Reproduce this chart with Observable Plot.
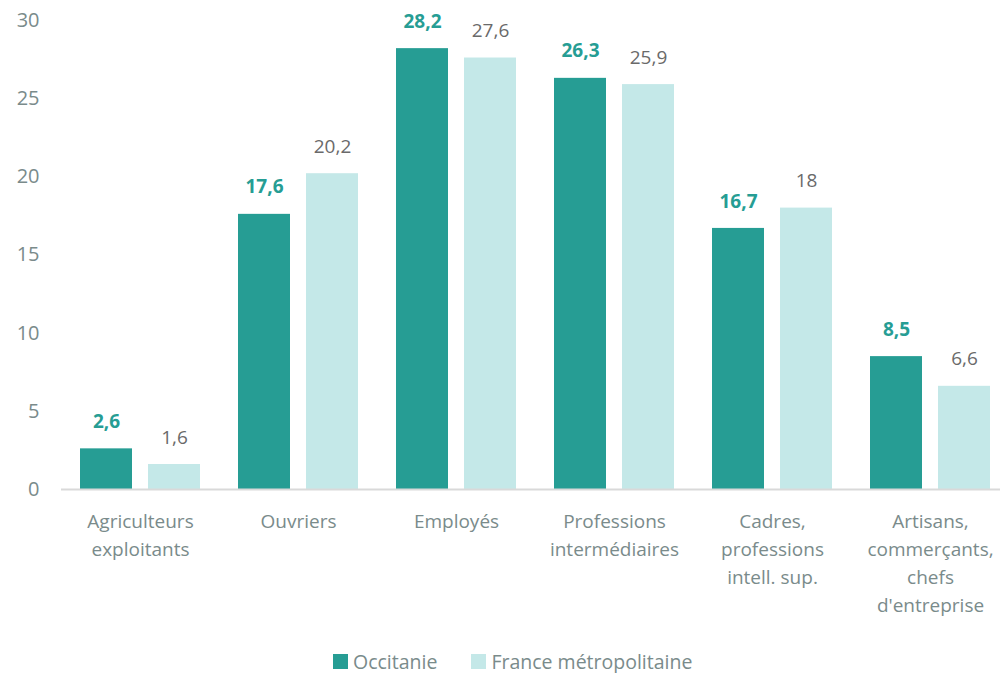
<!DOCTYPE html>
<html><head><meta charset="utf-8">
<script src="https://cdn.jsdelivr.net/npm/d3@7"></script>
<script src="https://cdn.jsdelivr.net/npm/@observablehq/plot@0.6"></script>
<style>
html,body{margin:0;padding:0;background:#fff;overflow:hidden;width:1000px;height:673px;}
#chart svg{display:block;max-width:none !important;}
.legend{position:absolute;left:333px;top:648px;display:flex;gap:34px;font-family:"Open Sans",sans-serif;font-size:19.5px;color:#7a8b8b;}
.legend span{display:inline-flex;align-items:center}
.legend i{display:inline-block;width:15px;height:15px;margin-right:5px}
</style></head>
<body><div id="chart"></div>
<div class="legend" id="legend"></div>
<script>
const categories = ["Agriculteurs\nexploitants","Ouvriers","Employés","Professions\nintermédiaires","Cadres,\nprofessions\nintell. sup.","Artisans,\ncommerçants,\nchefs\nd'entreprise"];
const series = ["Occitanie","France métropolitaine"];
const occitanie = [2.6,17.6,28.2,26.3,16.7,8.5];
const france = [1.6,20.2,27.6,25.9,18,6.6];
const yTicks = [0,5,10,15,20,25,30];
const colors = ["#269d94","#c4e8e8"];

const data = [];
categories.forEach((c,i)=>{
  data.push({cat:c, s:series[0], v:occitanie[i]});
  data.push({cat:c, s:series[1], v:france[i]});
});
const fmt = v => String(v).replace(".",",");
const font = "'Open Sans', sans-serif";

const chart = Plot.plot({
  width:1010, height:640,
  marginLeft:60, marginRight:0, marginTop:20, marginBottom:151,
  style:{fontFamily:font, fontSize:"19px", color:"#7a8b8b", background:"#fff", maxWidth:"none"},
  fx:{domain:categories, padding:0, label:null, axis:null},
  x:{domain:series, paddingInner:0.235, paddingOuter:0.27, axis:null},
  y:{domain:[0,30], label:null},
  color:{domain:series, range:colors},
  marks:[
    Plot.axisY({ticks:yTicks, tickSize:0, tickPadding:22, fill:"#7a8b8b", fontSize:20, label:null}),
    Plot.axisFx({anchor:"bottom", tickSize:0, tickPadding:19, fill:"#7a8b8b", fontSize:19, lineHeight:1.47, label:null}),
    Plot.barY(data,{fx:"cat", x:"s", y:"v", fill:"s"}),
    Plot.ruleY([0],{stroke:"#d9d9d9", strokeWidth:2}),
    Plot.text(data.filter(d=>d.s===series[0]),{fx:"cat", x:"s", y:"v", text:d=>fmt(d.v), dy:-27, fill:colors[0], fontWeight:"bold", fontSize:19}),
    Plot.text(data.filter(d=>d.s===series[1]),{fx:"cat", x:"s", y:"v", text:d=>fmt(d.v), dy:-27, fill:"#6a6a6a", fontSize:19})
  ]
});
document.getElementById("chart").appendChild(chart);
const lg = document.getElementById("legend");
series.forEach((s,i)=>{
  const sp=document.createElement("span");
  sp.innerHTML=`<i style="background:${colors[i]}"></i>${s}`;
  lg.appendChild(sp);
});
</script></body></html>
